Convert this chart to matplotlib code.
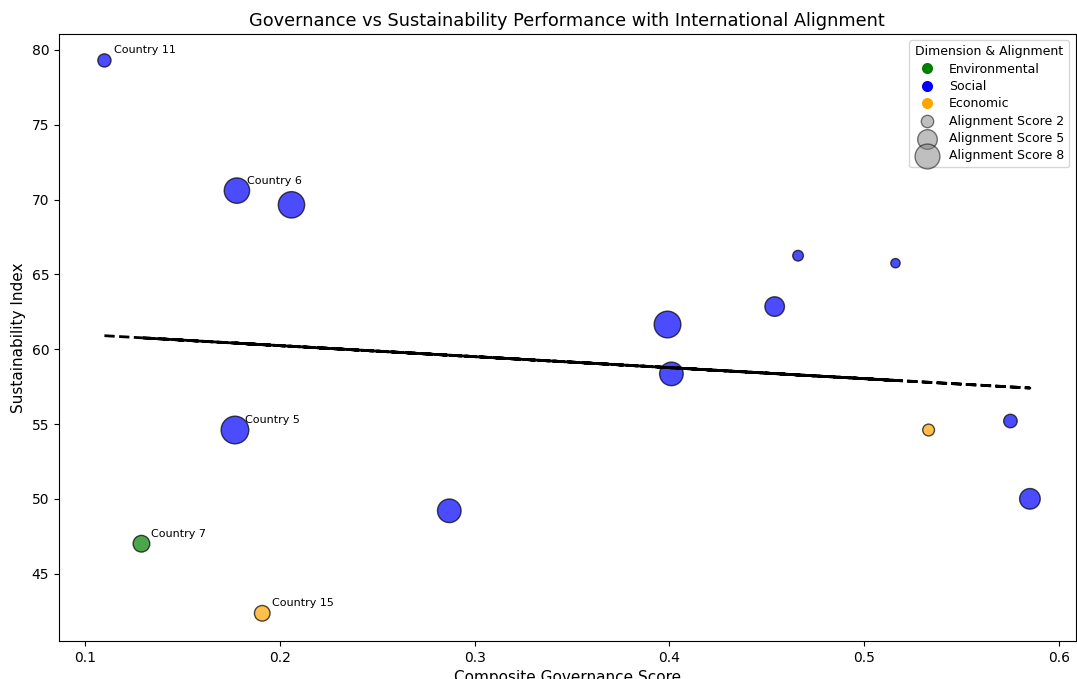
import numpy as np
import matplotlib
matplotlib.use("Agg")
import matplotlib.pyplot as plt
from matplotlib.lines import Line2D

# data
governance = [0.110, 0.178, 0.206, 0.466, 0.516, 0.454, 0.399, 0.401,
              0.177, 0.533, 0.575, 0.585, 0.287, 0.129, 0.191]
sustainability = [79.3, 70.6, 69.65, 66.25, 65.75, 62.85, 61.65, 58.35,
                  54.6, 54.6, 55.2, 50.0, 49.2, 47.0, 42.35]
dimension = ["Social", "Social", "Social", "Social", "Social", "Social", "Social", "Social",
             "Social", "Economic", "Social", "Social", "Social", "Environmental", "Economic"]
alignment = [2, 7.4, 8, 1.3, 1, 4.4, 8.2, 6.4, 8.8, 1.6, 2.1, 4.9, 6.4, 3.2, 2.8]
labels = ["Country 11", "Country 6", "", "", "", "", "", "",
          "Country 5", "", "", "", "", "Country 7", "Country 15"]

dim_names = ["Environmental", "Social", "Economic"]
dim_colors = {"Environmental": "green", "Social": "blue", "Economic": "orange"}
legend_scores = [2, 5, 8]
size_k = 45

fig = plt.figure(figsize=(10.77, 6.79), dpi=100)
ax = fig.add_axes([0.0548, 0.056, 0.944, 0.894])

x = np.array(governance)
y = np.array(sustainability)
cols = [dim_colors[d] for d in dimension]
ax.scatter(x, y, s=np.array(alignment) * size_k, c=cols, alpha=0.7,
           edgecolors="black", linewidths=1)

for xi, yi, lab in zip(x, y, labels):
    if lab:
        ax.annotate(lab, (xi, yi), xytext=(7, 5), textcoords="offset points", fontsize=8)

# linear trend
coef = np.polyfit(x, y, 1)
ax.plot(x, np.polyval(coef, x), "k--", linewidth=2)

ax.set_xlim(0.0867, 0.6085)
ax.set_ylim(40.5, 81.07)
ax.set_xlabel("Composite Governance Score", fontsize=11)
ax.set_ylabel("Sustainability Index", fontsize=11)
ax.set_title("Governance vs Sustainability Performance with International Alignment", fontsize=12.8)

handles = [Line2D([0], [0], marker="o", color="w", markerfacecolor=dim_colors[d],
                  markersize=9, label=d) for d in dim_names]
for sc in legend_scores:
    handles.append(plt.scatter([], [], s=sc * 40, c="gray", alpha=0.5,
                               edgecolors="black", label=f"Alignment Score {sc}"))
ax.legend(handles=handles, title="Dimension & Alignment", loc="upper right",
          fontsize=9, title_fontsize=9, labelspacing=0.35)

fig.savefig("out.png", dpi=100)
